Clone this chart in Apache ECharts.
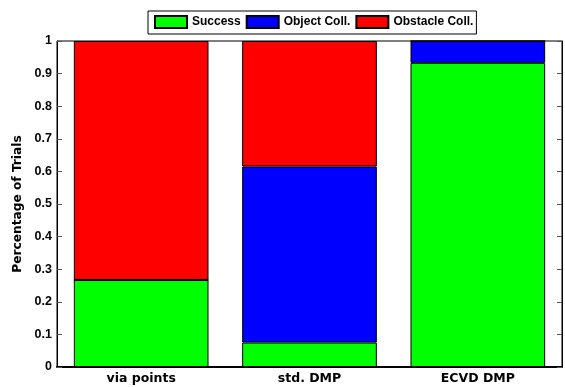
<!DOCTYPE html>
<html><head><meta charset="utf-8">
<script src="https://cdn.jsdelivr.net/npm/echarts@6/dist/echarts.min.js"></script>
<style>html,body{margin:0;padding:0;background:#fff}#c{width:565px;height:387px}</style>
</head><body><div id="c"></div>
<script>
const categories = ['via points', 'std. DMP', 'ECVD DMP'];
const success = [0.267, 0.075, 0.933];
const objectColl = [0, 0.54, 0.067];
const obstacleColl = [0.733, 0.385, 0];
const seriesNames = ['Success', 'Object Coll.', 'Obstacle Coll.'];
const yTicks = [0, 0.1, 0.2, 0.3, 0.4, 0.5, 0.6, 0.7, 0.8, 0.9, 1];

const font = 'Liberation Sans, Arial, sans-serif';
const wide = 'DejaVu Sans, sans-serif';
const chart = echarts.init(document.getElementById('c'), null, {renderer: 'canvas'});
const mk = (name, data, color) => ({
  name, type: 'bar', stack: 's', data, barWidth: '80%',
  itemStyle: {color, borderColor: '#000', borderWidth: 1},
  emphasis: {disabled: true}
});
chart.setOption({
  animation: false,
  grid: {left: 57, right: 3, top: 41, bottom: 20, show: true, borderColor: '#000', borderWidth: 1, backgroundColor: 'transparent'},
  legend: {
    data: seriesNames.map(n => ({name: n, icon: 'rect'})), left: 148, top: 11, itemWidth: 32, itemHeight: 12, itemGap: 5,
    borderColor: '#000', borderWidth: 1, padding: [4, 3, 5, 6],
    textStyle: {fontFamily: font, fontWeight: 'bold', fontSize: 12, color: '#000'}
  },
  xAxis: {
    type: 'category', data: categories,
    axisLine: {lineStyle: {color: '#000', width: 2}},
    axisTick: {show: false},
    axisLabel: {fontFamily: wide, fontWeight: 'bold', fontSize: 12.5, color: '#000', margin: 5}
  },
  yAxis: [{
    type: 'value', min: 0, max: 1, interval: 0.1,
    name: 'Percentage of Trials', nameLocation: 'middle', nameGap: 30,
    nameTextStyle: {fontFamily: wide, fontWeight: 'bold', fontSize: 12.2, color: '#000'},
    axisLine: {show: true, lineStyle: {color: '#000'}},
    axisTick: {show: true, inside: true, length: 5, lineStyle: {color: '#555'}},
    splitLine: {show: false},
    axisLabel: {fontFamily: font, fontWeight: 'bold', fontSize: 12.5, color: '#000', margin: 5,
      formatter: v => String(+v.toFixed(1))}
  }, {
    type: 'value', min: 0, max: 1, interval: 0.1, position: 'right',
    axisLine: {show: true, lineStyle: {color: '#000'}},
    axisTick: {show: true, inside: true, length: 5, lineStyle: {color: '#555'}},
    splitLine: {show: false},
    axisLabel: {show: false}
  }],
  series: [
    mk(seriesNames[0], success, '#00ff00'),
    mk(seriesNames[1], objectColl, '#0000ff'),
    mk(seriesNames[2], obstacleColl, '#ff0000')
  ]
});
</script></body></html>
